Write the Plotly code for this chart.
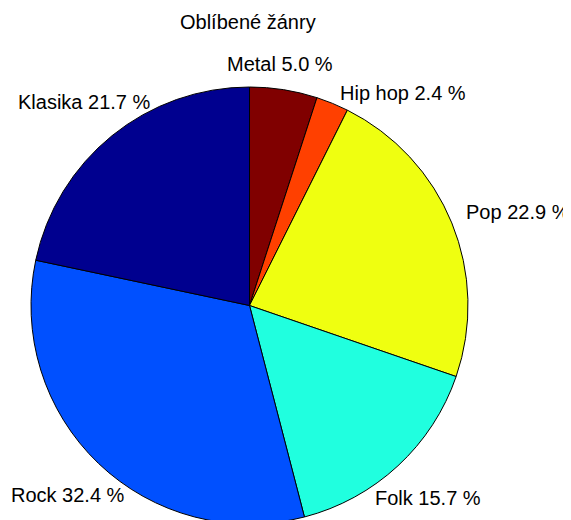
import numpy as np
import plotly.graph_objects as go

# ---- data (clockwise from 12 o'clock) ----
genres = ["Metal", "Hip hop", "Pop", "Folk", "Rock", "Klasika"]
percent = [5.0, 2.4, 22.9, 15.7, 32.4, 21.7]
title_text = "Oblíbené žánry"

# ---- styling ----
colors = ["#800000", "#FF4000", "#EFFF10", "#20FFDF", "#0050FF", "#00008F"]
W, H = 571, 520
OFF = 8  # page body margin
FONT = "Liberation Sans, Arial, sans-serif"
FS = 20
# pie placement (page pixels)
pg_left, pg_right, pg_top = 31, 468, 87
# small manual nudges of label text (pixels, +x right, +y down)
label_nudge = {"Pop": (26, 6), "Hip hop": (54, 30), "Metal": (-10, 17)}

diam = pg_right - pg_left
fx0 = pg_left - OFF
fy_top = pg_top - OFF
dom_x = [fx0 / W, (fx0 + diam) / W]
dom_y = [1 - (fy_top + diam) / H, 1 - fy_top / H]

fig = go.Figure(go.Pie(
    values=percent, labels=genres, sort=False, direction="clockwise",
    rotation=0, textinfo="none", hoverinfo="label+percent",
    marker=dict(colors=colors, line=dict(color="black", width=1)),
    domain=dict(x=dom_x, y=dom_y), showlegend=False,
))

# geometry of pie in figure pixels
r = diam / 2
cx = fx0 + r
cy = fy_top + r

total = sum(percent)
cum = np.cumsum([0] + percent)
annotations = []
for i, g in enumerate(genres):
    mid = (cum[i] + cum[i + 1]) / 2 / total * 2 * np.pi  # cw from top
    x = cx + 1.2 * r * np.sin(mid)
    y = cy - 1.2 * r * np.cos(mid)
    dx, dy = label_nudge.get(g, (0, 0))
    x += dx
    y += dy
    annotations.append(dict(
        x=x / W, y=1 - y / H, xref="paper", yref="paper",
        text=f"{g} {percent[i]:.1f} %", showarrow=False,
        xanchor="center", yanchor="middle",
        font=dict(family=FONT, size=FS, color="black"),
    ))

annotations.append(dict(
    x=(247.5 - OFF) / W, y=1 - (22 - OFF) / H, xref="paper", yref="paper",
    text=title_text, showarrow=False, xanchor="center", yanchor="middle",
    font=dict(family=FONT, size=FS, color="black"),
))

fig.update_layout(
    width=W, height=H, margin=dict(l=0, r=0, t=0, b=0),
    paper_bgcolor="white", plot_bgcolor="white",
    annotations=annotations,
)
fig.write_html("out.html")
